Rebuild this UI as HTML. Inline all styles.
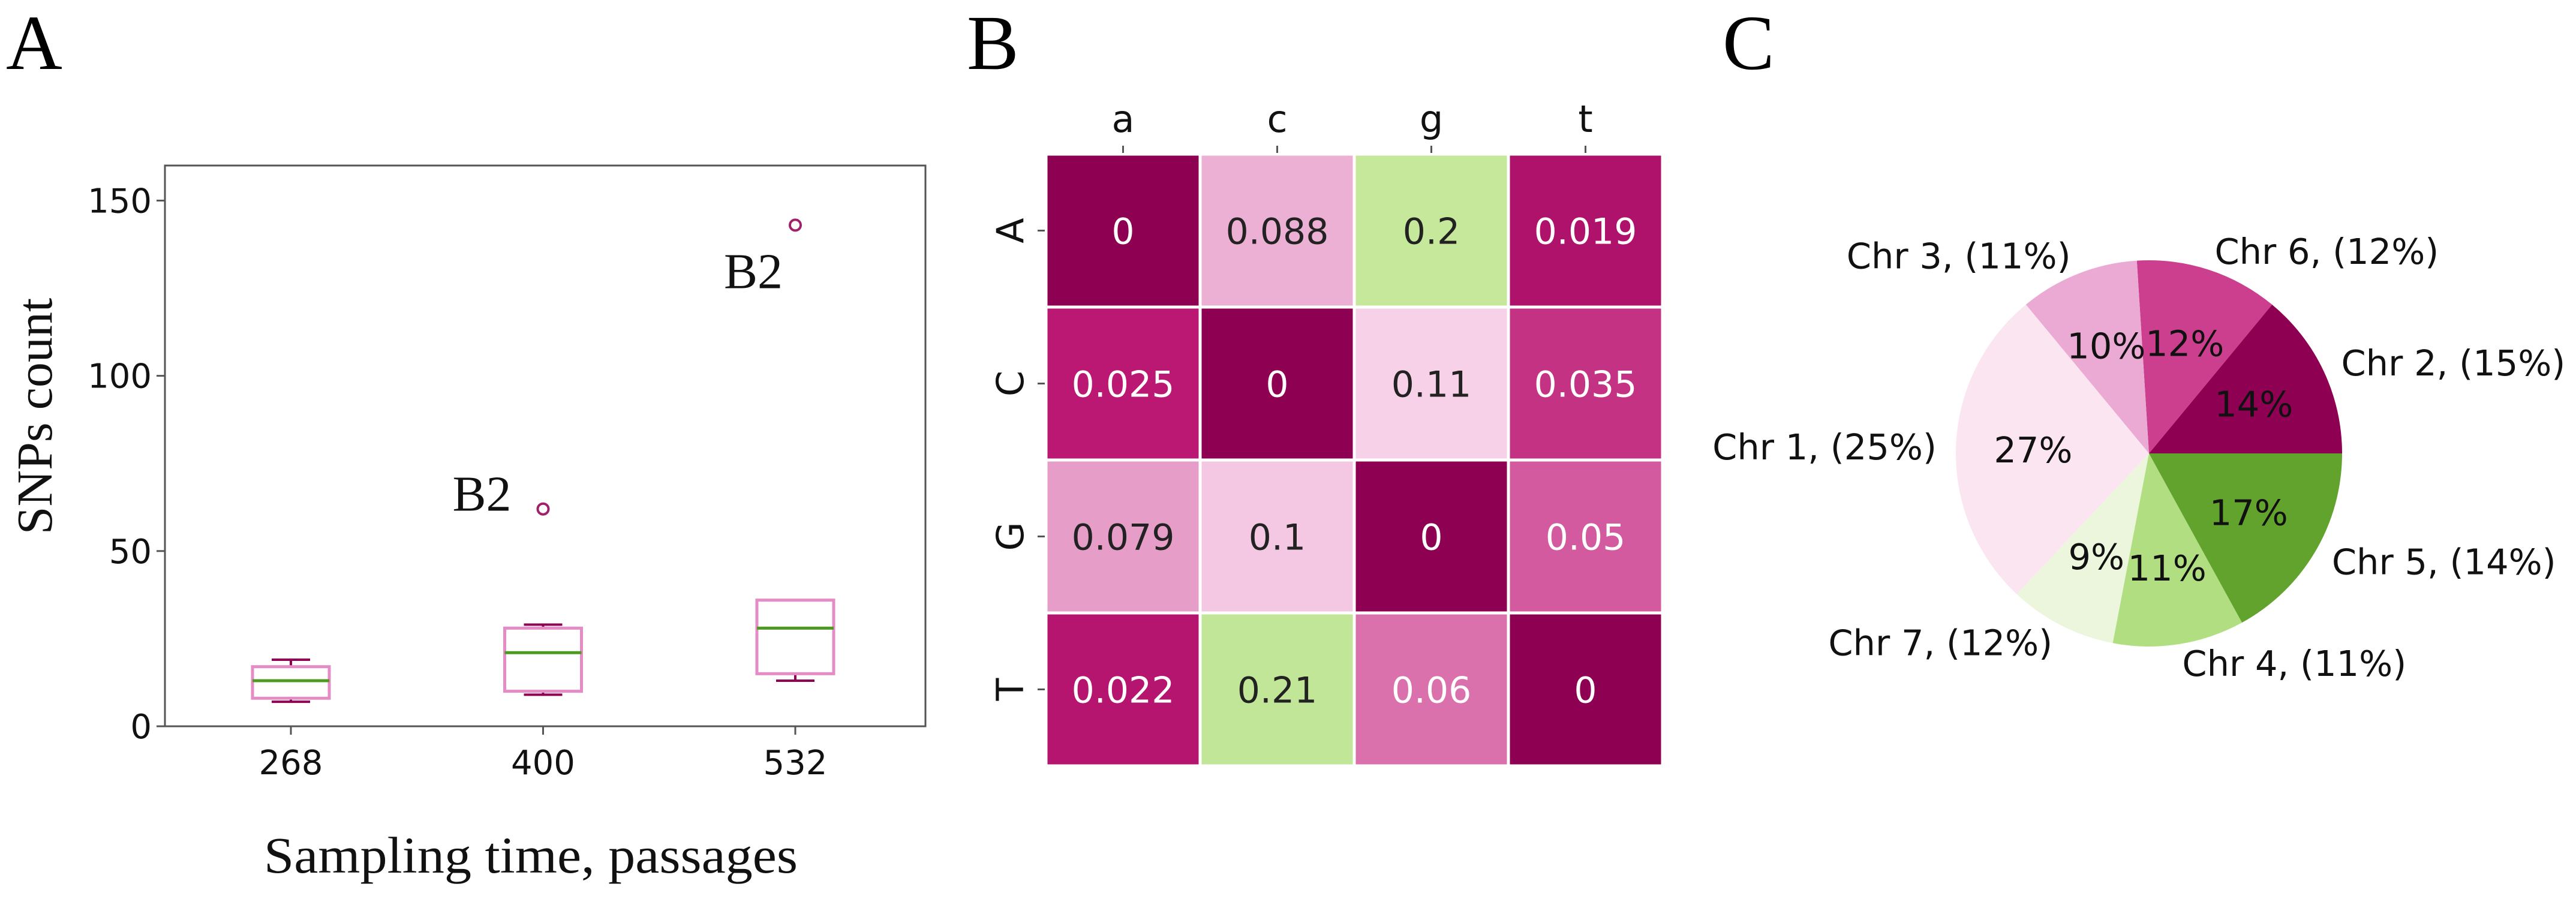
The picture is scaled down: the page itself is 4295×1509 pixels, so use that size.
<!DOCTYPE html>
<html><head><meta charset="utf-8"><style>
html,body{margin:0;padding:0;background:#fff}
svg{display:block}
.sans{font-family:"DejaVu Sans","Liberation Sans",sans-serif}
.serif{font-family:"Liberation Serif","DejaVu Serif",serif}
</style></head><body>
<svg id="fig" width="4295" height="1509" viewBox="0 0 4295 1509" xmlns="http://www.w3.org/2000/svg">
<rect width="4295" height="1509" fill="#fff"/>
<text class="serif" x="10" y="115" font-size="130">A</text>
<text class="serif" x="1612" y="115" font-size="130">B</text>
<text class="serif" x="2872" y="115" font-size="130">C</text>
<g id="boxplot"></g>
<g id="heatmap"></g>
<g id="pie"></g>
</svg>
<script>
// Panel A data
const boxCategories = ["268","400","532"];
const whiskerLow = [7, 9, 13];
const q1 = [8, 10, 15];
const medians = [13, 21, 28];
const q3 = [17, 28, 36];
const whiskerHigh = [19, 29, 36];
const outliers = [null, 62, 143];
const outlierLabels = ["", "B2", "B2"];
const yTicks = [0, 50, 100, 150];

// Panel B data
const colLabels = ["a","c","g","t"];
const rowLabels = ["A","C","G","T"];
const heatValues = [
  [0, 0.088, 0.2, 0.019],
  [0.025, 0, 0.11, 0.035],
  [0.079, 0.1, 0, 0.05],
  [0.022, 0.21, 0.06, 0]
];

// Panel C data
const pieLabels = ["Chr 2, (15%)","Chr 6, (12%)","Chr 3, (11%)","Chr 1, (25%)","Chr 7, (12%)","Chr 4, (11%)","Chr 5, (14%)"];
const pieValues = [14, 12, 10, 27, 9, 11, 17];
const pieColors = ["#8e0152","#cc3f8f","#ebaad3","#fbe5f1","#ebf6dc","#b2de82","#62a32e"];

const NS = "http://www.w3.org/2000/svg";
function mk(parent, tag, attrs, text){
  const e = document.createElementNS(NS, tag);
  for (const k in attrs) e.setAttribute(k, attrs[k]);
  if (text !== undefined) e.textContent = text;
  parent.appendChild(e);
  return e;
}

// ---------- Panel A ----------
(function(){
  const g = document.getElementById('boxplot');
  const L = 275, R = 1543, T = 276, B = 1211, yMax = 160;
  const y = v => B - v / yMax * (B - T);
  const x0 = 485, step = 420.5;
  const x = i => x0 + i * step;
  const hw = 64, cap = 32;
  let e = mk(g, 'rect', {x:L, y:T, width:R-L, height:B-T, fill:'none', stroke:'#555', 'stroke-width':3});
  
  
  yTicks.forEach(t => {
    mk(g, 'line', {x1:L-14, x2:L, y1:y(t), y2:y(t), stroke:'#555', 'stroke-width':3});
    const tx = mk(g, 'text', {x:L-22, y:y(t)+20, 'text-anchor':'end', 'font-size':56, class:'sans', fill:'#111'}, String(t));
    
    
  });
  boxCategories.forEach((c, i) => {
    const cx = x(i);
    mk(g, 'line', {x1:cx, x2:cx, y1:B, y2:B+14, stroke:'#555', 'stroke-width':3});
    const tx = mk(g, 'text', {x:cx, y:B+80, 'text-anchor':'middle', 'font-size':56, class:'sans', fill:'#111'}, c);
    
    
    const grp = mk(g, 'g', {});
    
    
    mk(grp, 'line', {x1:cx, x2:cx, y1:y(whiskerLow[i]), y2:y(q1[i]), stroke:'#8e0152', 'stroke-width':4});
    mk(grp, 'line', {x1:cx, x2:cx, y1:y(q3[i]), y2:y(whiskerHigh[i]), stroke:'#8e0152', 'stroke-width':4});
    mk(grp, 'line', {x1:cx-cap, x2:cx+cap, y1:y(whiskerLow[i]), y2:y(whiskerLow[i]), stroke:'#8e0152', 'stroke-width':4});
    mk(grp, 'line', {x1:cx-cap, x2:cx+cap, y1:y(whiskerHigh[i]), y2:y(whiskerHigh[i]), stroke:'#8e0152', 'stroke-width':4});
    mk(grp, 'rect', {x:cx-hw, y:y(q3[i]), width:2*hw, height:y(q1[i])-y(q3[i]), fill:'none', stroke:'#e58cc6', 'stroke-width':5});
    mk(grp, 'line', {x1:cx-hw, x2:cx+hw, y1:y(medians[i]), y2:y(medians[i]), stroke:'#4d9a21', 'stroke-width':5});
    if (outliers[i] !== null) {
      const o = mk(g, 'circle', {cx:cx, cy:y(outliers[i]), r:9, fill:'none', stroke:'#a0206a', 'stroke-width':4});
      
      
      const dx = i === 1 ? -53 : -21;
      const dy = i === 1 ? 3 : 105;
      const lb = mk(g, 'text', {x:cx+dx, y:y(outliers[i])+dy, 'text-anchor':'end', 'font-size':84, class:'serif', fill:'#111'}, outlierLabels[i]);
      
      
    }
  });
  let yl = mk(g, 'text', {x:0, y:0, transform:'translate(86,694) rotate(-90)', 'text-anchor':'middle', 'font-size':84, class:'serif', fill:'#111'}, 'SNPs count');
  
  
  let xl = mk(g, 'text', {x:885, y:1455, 'text-anchor':'middle', 'font-size':86, class:'serif', fill:'#111', textLength:890, lengthAdjust:'spacingAndGlyphs'}, 'Sampling time, passages');
  
  
})();

// ---------- Panel B ----------
(function(){
  const g = document.getElementById('heatmap');
  const L = 1744, T = 257, cw = 257, ch = 255;
  const stops = [[0,[142,1,82]],[0.025,[186,24,115]],[0.05,[211,90,158]],[0.08,[231,160,202]],[0.1,[244,200,226]],[0.115,[247,214,233]],[0.16,[230,245,208]],[0.2,[197,232,155]],[0.21,[194,230,151]]];
  function color(v){
    for (let k=1;k<stops.length;k++){
      if (v <= stops[k][0]) {
        const a = stops[k-1], b = stops[k], t = (v-a[0])/(b[0]-a[0]);
        const c = a[1].map((u,j)=>Math.round(u+(b[1][j]-u)*t));
        return 'rgb('+c.join(',')+')';
      }
    }
    return 'rgb(194,230,151)';
  }
  heatValues.forEach((row, r) => {
    row.forEach((v, c) => {
      const cell = mk(g, 'rect', {x:L+c*cw, y:T+r*ch, width:cw, height:ch, fill:color(v), stroke:'#fff', 'stroke-width':5});
      
      
      const tx = mk(g, 'text', {x:L+c*cw+cw/2, y:T+r*ch+ch/2+22, 'text-anchor':'middle', 'font-size':60, class:'sans', fill: (v < 0.075 ? '#fff' : '#222')}, String(v));
      
      
    });
  });
  colLabels.forEach((l, c) => {
    const cx = L + c*cw + cw/2;
    mk(g, 'line', {x1:cx, x2:cx, y1:T-14, y2:T-2, stroke:'#555', 'stroke-width':3});
    const tx = mk(g, 'text', {x:cx, y:220, 'text-anchor':'middle', 'font-size':62, class:'sans', fill:'#111'}, l);
    
    
  });
  rowLabels.forEach((l, r) => {
    const cy = T + r*ch + ch/2;
    mk(g, 'line', {x1:L-14, x2:L-2, y1:cy, y2:cy, stroke:'#555', 'stroke-width':3});
    const tx = mk(g, 'text', {x:0, y:0, transform:'translate(1706,'+cy+') rotate(-90)', 'text-anchor':'middle', 'font-size':62, class:'sans', fill:'#111'}, l);
    
    
  });
})();

// ---------- Panel C ----------
(function(){
  const g = document.getElementById('pie');
  const cx = 3583, cy = 756, r = 322;
  const total = pieValues.reduce((a,b)=>a+b,0);
  let a0 = 0;
  pieValues.forEach((v, i) => {
    const a1 = a0 + v / total * 2 * Math.PI;
    const x0 = cx + r*Math.cos(a0), y0 = cy - r*Math.sin(a0);
    const x1 = cx + r*Math.cos(a1), y1 = cy - r*Math.sin(a1);
    const large = (a1 - a0) > Math.PI ? 1 : 0;
    const p = mk(g, 'path', {d:`M${cx},${cy} L${x0},${y0} A${r},${r} 0 ${large} 0 ${x1},${y1} Z`, fill:pieColors[i]});
    
    
    const am = (a0 + a1) / 2;
    const pt = mk(g, 'text', {x:cx + 0.6*r*Math.cos(am), y:cy - 0.6*r*Math.sin(am) + 21, 'text-anchor':'middle', 'font-size':59, class:'sans', fill:'#111'}, v + '%');
    
    
    const lx = cx + 1.1*r*Math.cos(am), ly = cy - 1.1*r*Math.sin(am);
    const lt = mk(g, 'text', {x:lx, y:ly + 21, 'text-anchor': Math.cos(am) >= 0 ? 'start' : 'end', 'font-size':59, class:'sans', fill:'#111'}, pieLabels[i]);
    
    
    a0 = a1;
  });
})();
</script>
</body></html>
